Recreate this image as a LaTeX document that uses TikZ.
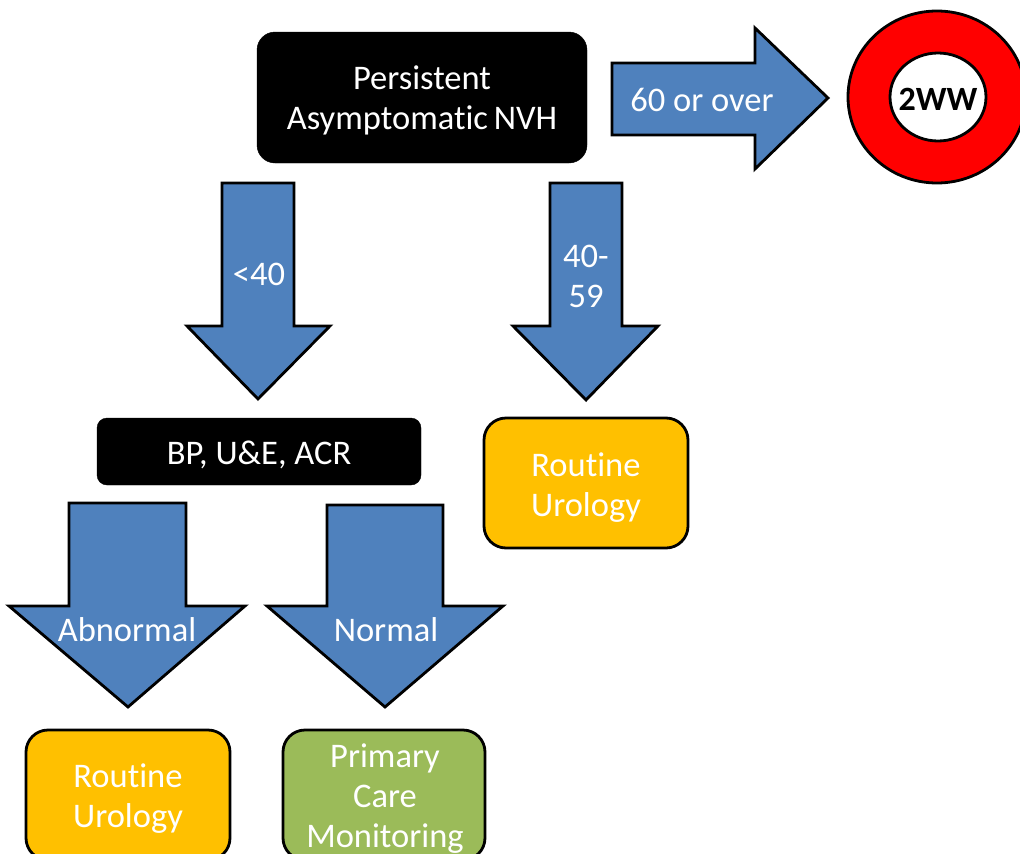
\documentclass[tikz,border=0pt]{standalone}
\usepackage{fontspec}
\setmainfont{Carlito}[Ligatures={NoCommon}]
\definecolor{arrblue}{HTML}{4F81BD}
\definecolor{amber}{HTML}{FFC000}
\definecolor{leaf}{HTML}{9BBB59}
\begin{document}
\begin{tikzpicture}[x=1pt,y=-1pt,
  outl/.style={draw=black,line width=2.8pt,line join=miter},
  barrow/.style={outl,fill=arrblue},
  txt/.style={text=white,align=center,font=\fontsize{34.5}{40}\selectfont,inner sep=0pt},
  darkbox/.style={fill=black,draw=black,rounded corners=18pt,inner sep=0pt},
  amberbox/.style={outl,fill=amber,rounded corners=22pt,inner sep=0pt},
  leafbox/.style={outl,fill=leaf,rounded corners=22pt,inner sep=0pt}]
\useasboundingbox (0,0) rectangle (1020,854);
% top box
\node[darkbox,minimum width=330pt,minimum height=131pt] (top) at (422,97.5) {};
\node[txt] (toptxt) at (422,100) {Persistent\\Asymptomatic\,NVH};
% right arrow
\draw[barrow] (612,63) -- (755,63) -- (755,28) -- (828,98) -- (755,169) -- (755,135) -- (612,135) -- cycle;
\node[txt] (a60) at (702,100) {60 or over};
% ring
\draw[outl,fill=red] (937,97) ellipse [x radius=89pt,y radius=86pt];
\draw[outl,fill=white] (938,97) ellipse [x radius=48pt,y radius=44pt];
\node[font=\fontsize{34}{40}\selectfont\bfseries,inner sep=0pt] (ww) at (938,99) {2WW};
% <40 arrow
\draw[barrow] (222,183) -- (294,183) -- (294,326) -- (330,326) -- (258,399) -- (187,326) -- (222,326) -- cycle;
\node[txt] (a40) at (259,274) {<40};
% 40-59 arrow
\draw[barrow] (550,183) -- (622,183) -- (622,326) -- (658,326) -- (586,400) -- (513,326) -- (550,326) -- cycle;
\node[txt] (a4059) at (586,276) {40-\\59};
% BP box
\node[darkbox,rounded corners=10pt,minimum width=324pt,minimum height=67pt] (bp) at (259,451.5) {};
\node[txt] (bptxt) at (259,455) {BP, U\&E, ACR};
% routine urology right
\node[amberbox,minimum width=204pt,minimum height=130pt] (ru1) at (586,483) {};
\node[txt] (ru1t) at (586,488) {Routine\\Urology};
% abnormal arrow
\draw[barrow] (69,503) -- (186,503) -- (186,606) -- (245,606) -- (128,707) -- (9,606) -- (69,606) -- cycle;
\node[txt] (abn) at (127,630) {Abnormal};
% normal arrow
\draw[barrow] (327,505) -- (443,505) -- (443,606) -- (503,606) -- (385,707) -- (267,606) -- (327,606) -- cycle;
\node[txt] (nor) at (386,630) {Normal};
% bottom boxes
\node[amberbox,minimum width=204pt,minimum height=130pt] (ru2) at (128,795) {};
\node[txt] (ru2t) at (128,799) {Routine\\Urology};
\node[leafbox,minimum width=202pt,minimum height=130pt] (pcm) at (384,795) {};
\node[txt] (pcmt) at (385,799) {Primary\\Care\\Monitoring};
\end{tikzpicture}
\end{document}
